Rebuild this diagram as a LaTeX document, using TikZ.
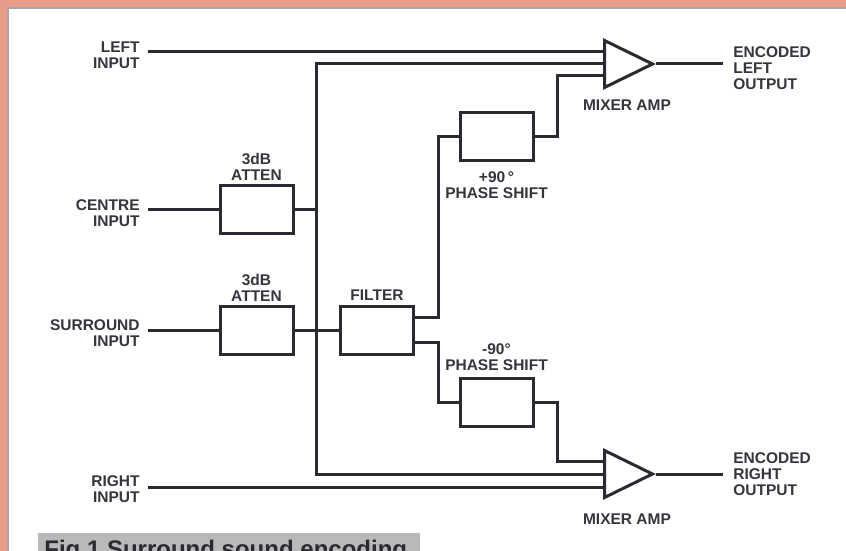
\documentclass[tikz,border=0pt]{standalone}
\usepackage{fontspec}
\setmainfont{Liberation Sans}
\usetikzlibrary{shapes.geometric, positioning}
\definecolor{ink}{HTML}{2A2A30}
\definecolor{txt}{HTML}{35353D}
\definecolor{edge}{HTML}{E99C8A}
\definecolor{capgrey}{HTML}{B9B9B9}

\begin{document}
\begin{tikzpicture}[x=0.5pt, y=-0.5pt,
    wire/.style={draw=ink, line width=1.5pt},
    box/.style={draw=ink, line width=1.5pt, fill=white, rectangle,
                minimum width=36.5pt, minimum height=24pt, inner sep=0pt},
    amp/.style={draw=ink, line width=1.5pt, fill=white, isosceles triangle,
                isosceles triangle stretches, minimum width=23.5pt,
                minimum height=24pt, inner sep=0pt, anchor=west},
    lbl/.style={text=txt, font=\fontsize{7.75}{8}\selectfont\bfseries,
                inner sep=0pt, align=center}]
    \useasboundingbox (0,0) rectangle (846,551);
    \clip (0,0) rectangle (846,551);
    % page and frame
    \fill[edge] (0,0) rectangle (846,551);
    \fill[white] (8,8) rectangle (847,552);
    \draw[gray!70, line width=0.6pt] (8,552) -- (8,8) -- (847,8);

    % blocks
    \node[box] (at1) at (256.5,209) {};
    \node[box] (at2) at (256.5,330) {};
    \node[box] (filt) at (377,330) {};
    \node[box] (ps1) at (496.5,137) {};
    \node[box] (ps2) at (496.5,402) {};
    \node[amp] (ampL) at (603,64) {};
    \node[amp] (ampR) at (603,474) {};

    \node[lbl, above=1.5pt of at1] (tat1) {3dB\\ATTEN};
    \node[lbl, above=1.5pt of at2] (tat2) {3dB\\ATTEN};
    \node[lbl, above=2pt of filt] (tfilt) {FILTER};
    \node[lbl, below=4.5pt of ps1] (tps1) {+90\,°\\PHASE SHIFT};
    \node[lbl, above=2.5pt of ps2] (tps2) {-90°\\PHASE SHIFT};
    \node[lbl] (tmixL) at (627,105) {MIXER AMP};
    \node[lbl] (tmixR) at (627,519) {MIXER AMP};

    % inputs and outputs
    \coordinate (lin) at (148,52);
    \coordinate (cin) at (148,209);
    \coordinate (sin) at (148,330);
    \coordinate (rin) at (148,487);
    \node[lbl, align=right, anchor=east] (tlin) at (140,55) {LEFT\\INPUT};
    \node[lbl, align=right, anchor=east] (tcin) at (140,213) {CENTRE\\INPUT};
    \node[lbl, align=right, anchor=east] (tsin) at (140,333) {SURROUND\\INPUT};
    \node[lbl, align=right, anchor=east] (trin) at (140,489) {RIGHT\\INPUT};
    \coordinate (oL) at (723,64);
    \coordinate (oR) at (723,474);
    \node[lbl, align=left, anchor=west] (toL) at (733,68) {ENCODED\\LEFT\\OUTPUT};
    \node[lbl, align=left, anchor=west] (toR) at (733,474) {ENCODED\\RIGHT\\OUTPUT};

    % bends
    \coordinate (busB) at (316,474);
    \coordinate (kU) at (557,76);
    \coordinate (kD) at (557,461);

    % wiring
    \draw[wire] (lin) -- (lin -| ampL.west);
    \draw[wire] (rin) -- (rin -| ampR.west);
    \draw[wire] (cin) -- (at1);
    \draw[wire] (at1) -- (at1 -| busB);
    \draw[wire] (ampL.west) -| (busB) -- (ampR.west);
    \draw[wire] (sin) -- (at2);
    \draw[wire] (at2) -- (filt);
    \draw[wire] ([yshift=6.25pt]filt.east) -- ++(23,0) |- (ps1);
    \draw[wire] ([yshift=-6.25pt]filt.east) -- ++(23,0) |- (ps2);
    \draw[wire] (ps1) -| (kU) -- (kU -| ampL.west);
    \draw[wire] (ps2) -| (kD) -- (kD -| ampR.west);
    \draw[wire] (ampL.apex) -- (oL);
    \draw[wire] (ampR.apex) -- (oR);

    % caption
    \fill[capgrey] (38,533) rectangle (420,560);
    \node[anchor=base west, inner sep=0pt, text=ink,
          font=\fontsize{12}{14}\selectfont\bfseries] (cap) at (44,557)
          {Fig 1 Surround sound encoding};
\end{tikzpicture}
\end{document}
